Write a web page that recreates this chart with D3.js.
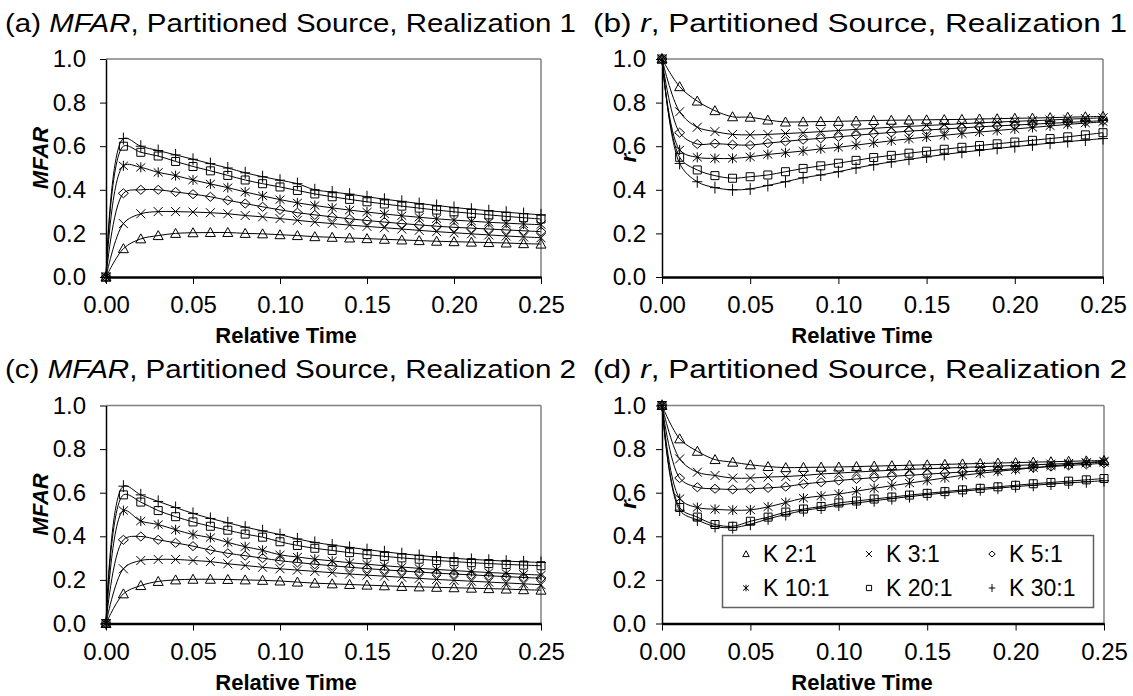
<!DOCTYPE html>
<html>
<head>
<meta charset="utf-8">
<script src="https://cdn.jsdelivr.net/npm/d3@7"></script>
<style>
  body { margin: 0; background: #fff; }
  svg { display: block; font-family: "Liberation Sans", Arial, sans-serif; }
</style>
</head>
<body>
<script>
// x values (relative time)
const times = [0, 0.01, 0.02, 0.03, 0.04, 0.05, 0.06, 0.07, 0.08, 0.09, 0.10, 0.11, 0.12,
  0.13, 0.14, 0.15, 0.16, 0.17, 0.18, 0.19, 0.20, 0.21, 0.22, 0.23, 0.24, 0.25];

const seriesNames = ['K 2:1', 'K 3:1', 'K 5:1', 'K 10:1', 'K 20:1', 'K 30:1'];
const xTicks = [0, 0.05, 0.10, 0.15, 0.20, 0.25];
const yTicks = [0, 0.2, 0.4, 0.6, 0.8, 1.0];

// (a) MFAR, realization 1
const mfar1_k2  = [0, 0.13, 0.175, 0.19, 0.20, 0.203, 0.204, 0.204, 0.200, 0.198, 0.194, 0.190, 0.185, 0.182, 0.179, 0.176, 0.173, 0.170, 0.167, 0.164, 0.162, 0.160, 0.158, 0.156, 0.153, 0.151];
const mfar1_k3  = [0, 0.245, 0.29, 0.30, 0.30, 0.298, 0.295, 0.29, 0.282, 0.276, 0.268, 0.26, 0.252, 0.245, 0.238, 0.232, 0.226, 0.220, 0.214, 0.208, 0.203, 0.198, 0.193, 0.188, 0.184, 0.18];
const mfar1_k5  = [0, 0.384, 0.40, 0.40, 0.39, 0.38, 0.368, 0.352, 0.337, 0.322, 0.308, 0.295, 0.285, 0.276, 0.267, 0.259, 0.252, 0.245, 0.239, 0.233, 0.228, 0.224, 0.22, 0.216, 0.212, 0.208];
const mfar1_k10 = [0, 0.51, 0.503, 0.48, 0.465, 0.445, 0.427, 0.41, 0.39, 0.372, 0.355, 0.34, 0.328, 0.317, 0.307, 0.298, 0.289, 0.281, 0.274, 0.267, 0.261, 0.256, 0.251, 0.247, 0.243, 0.24];
const mfar1_k20 = [0, 0.60, 0.572, 0.555, 0.53, 0.507, 0.487, 0.466, 0.445, 0.428, 0.413, 0.397, 0.381, 0.368, 0.356, 0.345, 0.335, 0.325, 0.316, 0.307, 0.299, 0.292, 0.285, 0.278, 0.272, 0.266];
const mfar1_k30 = [0, 0.635, 0.60, 0.58, 0.56, 0.54, 0.52, 0.50, 0.478, 0.46, 0.444, 0.428, 0.40, 0.39, 0.38, 0.368, 0.357, 0.347, 0.337, 0.328, 0.319, 0.311, 0.304, 0.297, 0.291, 0.285];

// (b) r, realization 1
const r1_k2  = [1, 0.873, 0.807, 0.763, 0.735, 0.733, 0.72, 0.711, 0.712, 0.713, 0.714, 0.716, 0.718, 0.719, 0.72, 0.721, 0.722, 0.723, 0.725, 0.726, 0.728, 0.729, 0.731, 0.733, 0.735, 0.737];
const r1_k3  = [1, 0.758, 0.687, 0.667, 0.654, 0.652, 0.654, 0.658, 0.662, 0.667, 0.672, 0.677, 0.682, 0.687, 0.691, 0.695, 0.699, 0.703, 0.707, 0.711, 0.714, 0.717, 0.72, 0.724, 0.727, 0.73];
const r1_k5  = [1, 0.662, 0.61, 0.612, 0.607, 0.605, 0.614, 0.622, 0.630, 0.636, 0.643, 0.65, 0.657, 0.663, 0.669, 0.674, 0.679, 0.684, 0.689, 0.693, 0.697, 0.701, 0.705, 0.709, 0.713, 0.717];
const r1_k10 = [1, 0.583, 0.549, 0.544, 0.544, 0.551, 0.562, 0.57, 0.578, 0.588, 0.595, 0.605, 0.615, 0.625, 0.634, 0.642, 0.65, 0.658, 0.665, 0.672, 0.679, 0.686, 0.693, 0.70, 0.706, 0.712];
const r1_k20 = [1, 0.549, 0.491, 0.465, 0.453, 0.46, 0.468, 0.483, 0.498, 0.51, 0.522, 0.535, 0.548, 0.558, 0.568, 0.577, 0.586, 0.595, 0.603, 0.611, 0.619, 0.627, 0.635, 0.643, 0.652, 0.662];
const r1_k30 = [1, 0.521, 0.437, 0.41, 0.40, 0.404, 0.42, 0.437, 0.455, 0.468, 0.483, 0.50, 0.515, 0.528, 0.54, 0.551, 0.562, 0.572, 0.581, 0.59, 0.598, 0.606, 0.614, 0.621, 0.628, 0.635];

// (c) MFAR, realization 2
const mfar2_k2  = [0, 0.136, 0.174, 0.193, 0.20, 0.203, 0.203, 0.202, 0.20, 0.198, 0.195, 0.19, 0.185, 0.182, 0.179, 0.176, 0.173, 0.17, 0.168, 0.166, 0.164, 0.162, 0.16, 0.158, 0.155, 0.153];
const mfar2_k3  = [0, 0.251, 0.289, 0.294, 0.294, 0.289, 0.284, 0.274, 0.266, 0.258, 0.251, 0.245, 0.239, 0.233, 0.227, 0.222, 0.217, 0.212, 0.207, 0.202, 0.198, 0.194, 0.19, 0.186, 0.182, 0.178];
const mfar2_k5  = [0, 0.384, 0.399, 0.384, 0.37, 0.355, 0.337, 0.322, 0.311, 0.30, 0.288, 0.28, 0.272, 0.265, 0.258, 0.252, 0.246, 0.241, 0.236, 0.231, 0.227, 0.223, 0.219, 0.215, 0.211, 0.208];
const mfar2_k10 = [0, 0.518, 0.47, 0.454, 0.43, 0.408, 0.394, 0.372, 0.352, 0.336, 0.315, 0.305, 0.295, 0.287, 0.279, 0.272, 0.265, 0.259, 0.253, 0.248, 0.243, 0.238, 0.234, 0.23, 0.226, 0.222];
const mfar2_k20 = [0, 0.59, 0.557, 0.518, 0.49, 0.466, 0.446, 0.428, 0.41, 0.396, 0.375, 0.358, 0.345, 0.335, 0.325, 0.316, 0.308, 0.301, 0.295, 0.289, 0.284, 0.279, 0.275, 0.271, 0.268, 0.265];
const mfar2_k30 = [0, 0.63, 0.59, 0.56, 0.532, 0.505, 0.482, 0.462, 0.442, 0.425, 0.408, 0.388, 0.372, 0.36, 0.349, 0.339, 0.329, 0.32, 0.312, 0.305, 0.299, 0.294, 0.29, 0.286, 0.283, 0.28];

// (d) r, realization 2
const r2_k2  = [1, 0.847, 0.79, 0.752, 0.74, 0.728, 0.72, 0.715, 0.716, 0.717, 0.718, 0.72, 0.722, 0.724, 0.726, 0.728, 0.73, 0.732, 0.734, 0.736, 0.738, 0.74, 0.742, 0.744, 0.746, 0.748];
const r2_k3  = [1, 0.755, 0.694, 0.679, 0.667, 0.667, 0.672, 0.674, 0.679, 0.686, 0.69, 0.695, 0.699, 0.703, 0.707, 0.71, 0.713, 0.716, 0.719, 0.722, 0.725, 0.728, 0.731, 0.734, 0.737, 0.74];
const r2_k5  = [1, 0.667, 0.625, 0.618, 0.615, 0.618, 0.622, 0.628, 0.64, 0.648, 0.656, 0.663, 0.669, 0.675, 0.68, 0.685, 0.69, 0.695, 0.70, 0.705, 0.71, 0.715, 0.72, 0.725, 0.73, 0.735];
const r2_k10 = [1, 0.573, 0.532, 0.524, 0.52, 0.521, 0.535, 0.555, 0.575, 0.585, 0.594, 0.607, 0.62, 0.632, 0.644, 0.656, 0.668, 0.68, 0.689, 0.698, 0.706, 0.714, 0.722, 0.73, 0.738, 0.745];
const r2_k20 = [1, 0.532, 0.488, 0.454, 0.446, 0.469, 0.488, 0.511, 0.525, 0.537, 0.553, 0.562, 0.571, 0.58, 0.589, 0.597, 0.605, 0.613, 0.62, 0.627, 0.634, 0.641, 0.647, 0.653, 0.659, 0.665];
const r2_k30 = [1, 0.52, 0.475, 0.445, 0.44, 0.455, 0.48, 0.50, 0.518, 0.53, 0.543, 0.553, 0.563, 0.573, 0.582, 0.591, 0.599, 0.607, 0.614, 0.621, 0.628, 0.634, 0.64, 0.645, 0.65, 0.655];

const W = 1133, H = 696;
const svg = d3.select('body').append('svg').attr('width', W).attr('height', H);

// marker shapes, drawn around (0,0)
function markerPath(kind, s) {
  const p = d3.path();
  if (kind === 0) {          // triangle
    p.moveTo(0, -5 * s); p.lineTo(5 * s, 4 * s); p.lineTo(-5 * s, 4 * s); p.closePath();
  } else if (kind === 1) {   // x
    p.moveTo(-4.5 * s, -4.5 * s); p.lineTo(4.5 * s, 4.5 * s);
    p.moveTo(4.5 * s, -4.5 * s); p.lineTo(-4.5 * s, 4.5 * s);
  } else if (kind === 2) {   // diamond
    p.moveTo(0, -4.5 * s); p.lineTo(5 * s, 0); p.lineTo(0, 4.5 * s); p.lineTo(-5 * s, 0); p.closePath();
  } else if (kind === 3) {   // asterisk
    p.moveTo(-4.5 * s, -4 * s); p.lineTo(4.5 * s, 4 * s);
    p.moveTo(4.5 * s, -4 * s); p.lineTo(-4.5 * s, 4 * s);
    p.moveTo(0, -5 * s); p.lineTo(0, 5 * s);
  } else if (kind === 4) {   // square
    p.rect(-4 * s, -4 * s, 8 * s, 8 * s);
  } else {                   // plus
    p.moveTo(-5 * s, 0); p.lineTo(5 * s, 0);
    p.moveTo(0, -6 * s); p.lineTo(0, 6 * s);
  }
  return p.toString();
}

function drawPanel(cfg) {
  const x = d3.scaleLinear().domain([0, 0.25]).range([cfg.left, cfg.right]);
  const y = d3.scaleLinear().domain([0, 1]).range([cfg.bottom, cfg.top]);
  const g = svg.append('g');

  // title (stretched to the width it has in the picture)
  const t = g.append('text').attr('x', cfg.titleX).attr('y', cfg.titleY)
    .attr('font-size', 26).attr('fill', '#000')
    .attr('textLength', cfg.titleW).attr('lengthAdjust', 'spacingAndGlyphs');
  t.append('tspan').text(cfg.label + ' ');
  t.append('tspan').attr('font-style', 'italic').text(cfg.varName);
  t.append('tspan').text(', Partitioned Source, Realization ' + cfg.real);

  // gray frame top/right
  g.append('line').attr('x1', cfg.left).attr('x2', cfg.right).attr('y1', cfg.top).attr('y2', cfg.top)
    .attr('stroke', '#808080').attr('stroke-width', 1.5);
  g.append('line').attr('x1', cfg.right).attr('x2', cfg.right).attr('y1', cfg.top).attr('y2', cfg.bottom)
    .attr('stroke', '#808080').attr('stroke-width', 1.5);

  // axes
  const yAxis = g.append('g').attr('transform', `translate(${cfg.left},0)`)
    .call(d3.axisLeft(y).tickValues(yTicks).tickFormat(d3.format('.1f')).tickSizeInner(6).tickSizeOuter(0).tickPadding(cfg.yPad));
  yAxis.select('.domain').attr('stroke', '#000').attr('stroke-width', 1.5);
  yAxis.selectAll('.tick line').attr('stroke', '#000');
  yAxis.selectAll('text').attr('font-size', 24).attr('font-family', '"Liberation Sans", Arial, sans-serif').attr('fill', '#000');

  const xAxis = g.append('g').attr('transform', `translate(0,${cfg.bottom})`)
    .call(d3.axisBottom(x).tickValues(xTicks).tickFormat(d3.format('.2f')).tickSizeInner(7).tickSizeOuter(0).tickPadding(12));
  xAxis.select('.domain').attr('stroke', '#000').attr('stroke-width', 2.5);
  xAxis.selectAll('.tick line').attr('stroke', '#000');
  xAxis.selectAll('text').attr('font-size', 24).attr('font-family', '"Liberation Sans", Arial, sans-serif').attr('fill', '#000');

  // axis titles
  g.append('text').attr('x', cfg.xTitleX).attr('y', cfg.bottom + 66)
    .attr('text-anchor', 'middle').attr('font-size', 22).attr('font-weight', 'bold').text('Relative Time');
  g.append('text').attr('transform', `translate(${cfg.yTitleX},${(cfg.top + cfg.bottom) / 2 - 10}) rotate(-90)`)
    .attr('text-anchor', 'middle').attr('font-size', 22).attr('font-weight', 'bold').attr('font-style', 'italic')
    .text(cfg.varName);

  // series
  const line = d3.line().x((d, i) => x(times[i])).y(d => y(d)).curve(d3.curveCatmullRom.alpha(0.5));
  cfg.series.forEach((vals, k) => {
    g.append('path').attr('d', line(vals)).attr('fill', 'none').attr('stroke', '#000').attr('stroke-width', 1);
  });
  cfg.series.forEach((vals, k) => {
    g.selectAll(null).data(vals).enter().append('path')
      .attr('transform', (d, i) => `translate(${x(times[i])},${y(d)})`)
      .attr('d', markerPath(k, 1)).attr('fill', 'none').attr('stroke', '#000').attr('stroke-width', 1);
  });
}

drawPanel({ label: '(a)', varName: 'MFAR', real: 1, titleX: 5, titleY: 32, titleW: 571,
  left: 106, right: 541, top: 59, bottom: 277, yPad: 14, xTitleX: 286, yTitleX: 48,
  series: [mfar1_k2, mfar1_k3, mfar1_k5, mfar1_k10, mfar1_k20, mfar1_k30] });
drawPanel({ label: '(b)', varName: 'r', real: 1, titleX: 593, titleY: 32, titleW: 534,
  left: 662, right: 1103, top: 59, bottom: 277, yPad: 10, xTitleX: 862, yTitleX: 636,
  series: [r1_k2, r1_k3, r1_k5, r1_k10, r1_k20, r1_k30] });
drawPanel({ label: '(c)', varName: 'MFAR', real: 2, titleX: 5, titleY: 378, titleW: 571,
  left: 106, right: 541, top: 405.5, bottom: 623.5, yPad: 14, xTitleX: 286, yTitleX: 48,
  series: [mfar2_k2, mfar2_k3, mfar2_k5, mfar2_k10, mfar2_k20, mfar2_k30] });
drawPanel({ label: '(d)', varName: 'r', real: 2, titleX: 593, titleY: 378, titleW: 534,
  left: 662, right: 1104, top: 405.5, bottom: 623.5, yPad: 10, xTitleX: 862, yTitleX: 636,
  series: [r2_k2, r2_k3, r2_k5, r2_k10, r2_k20, r2_k30] });

// legend inside panel (d)
const legend = svg.append('g');
legend.append('rect').attr('x', 722.5).attr('y', 535.5).attr('width', 371).attr('height', 72)
  .attr('fill', '#fff').attr('stroke', '#606060').attr('stroke-width', 1.5);
const colX = [746, 869, 992];
const rowY = [554, 588];
seriesNames.forEach((name, i) => {
  const cx = colX[i % 3], cy = rowY[Math.floor(i / 3)];
  legend.append('path').attr('transform', `translate(${cx},${cy})`)
    .attr('d', markerPath(i, 0.65)).attr('fill', 'none').attr('stroke', '#000').attr('stroke-width', 1);
  legend.append('text').attr('x', cx + 17).attr('y', cy + 8).attr('font-size', 23).text(name);
});
</script>
</body>
</html>
